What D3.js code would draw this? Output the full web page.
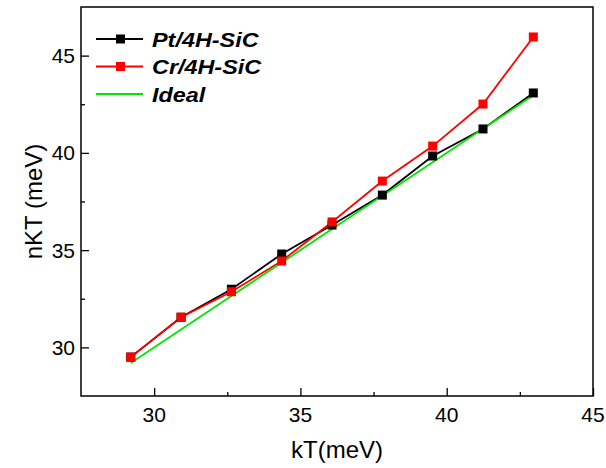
<html>
<head>
<script src="https://cdn.jsdelivr.net/npm/d3@7"></script>
<style>
  body { margin: 0; background: #fff; }
  text { font-family: Arial, "Liberation Sans", sans-serif; }
</style>
</head>
<body>
<svg id="chart" width="606" height="468"></svg>
<script>
// kT values (meV)
var kT = [29.2, 30.92, 32.64, 34.36, 36.08, 37.8, 39.52, 41.24, 42.96];
// nkT values (meV)
var ptValues = [29.5, 31.55, 32.99, 34.8, 36.29, 37.83, 39.84, 41.23, 43.08];
var crValues = [29.5, 31.55, 32.86, 34.44, 36.45, 38.55, 40.35, 42.51, 45.96];
var idealValues = [29.2, 30.92, 32.64, 34.36, 36.08, 37.8, 39.52, 41.24, 42.96];

var xTicks = [30, 35, 40, 45];
var xMinor = [32.5, 37.5, 42.5];
var yTicks = [30, 35, 40, 45];
var yMinor = [32.5, 37.5, 42.5];

var series = [
  {name: "Pt/4H-SiC", color: "#000000", values: ptValues, marker: true},
  {name: "Cr/4H-SiC", color: "#ff0000", values: crValues, marker: true},
  {name: "Ideal", color: "#00e600", values: idealValues, marker: false}
];

var plotLeft = 81, plotRight = 593, plotTop = 7, plotBottom = 396;

var svg = d3.select("#chart");

var x = d3.scaleLinear().domain([27.5, 45]).range([plotLeft, plotRight]);
var y = d3.scaleLinear().domain([27.5, 47.5]).range([plotBottom, plotTop]);

// major + minor ticks, drawn inward
var xAxis = d3.axisTop(x).tickValues(xTicks).tickSize(8).tickFormat("");
svg.append("g").attr("transform", "translate(0," + plotBottom + ")").call(xAxis);
var xAxisMinor = d3.axisTop(x).tickValues(xMinor).tickSize(4).tickFormat("");
svg.append("g").attr("transform", "translate(0," + plotBottom + ")").call(xAxisMinor);

var yAxis = d3.axisRight(y).tickValues(yTicks).tickSize(8).tickFormat("");
svg.append("g").attr("transform", "translate(" + plotLeft + ",0)").call(yAxis);
var yAxisMinor = d3.axisRight(y).tickValues(yMinor).tickSize(4).tickFormat("");
svg.append("g").attr("transform", "translate(" + plotLeft + ",0)").call(yAxisMinor);

svg.selectAll(".domain").remove();
svg.selectAll(".tick line").attr("stroke", "#000").attr("stroke-width", 1.3);

// tick labels
svg.selectAll(".xlab")
  .data(xTicks)
  .enter()
  .append("text")
  .attr("x", d => x(d))
  .attr("y", plotBottom + 26)
  .attr("text-anchor", "middle")
  .attr("font-size", 21)
  .text(d => d);

svg.selectAll(".ylab")
  .data(yTicks)
  .enter()
  .append("text")
  .attr("x", plotLeft - 6)
  .attr("y", d => y(d) + 7.5)
  .attr("text-anchor", "end")
  .attr("font-size", 21)
  .text(d => d);

// frame
svg.append("rect")
  .attr("x", plotLeft).attr("y", plotTop)
  .attr("width", plotRight - plotLeft).attr("height", plotBottom - plotTop)
  .attr("fill", "none").attr("stroke", "#000").attr("stroke-width", 1.5);

// lines
var line = d3.line().x((d, i) => x(kT[i])).y(d => y(d));

series.forEach(function(s) {
  svg.append("path")
    .attr("d", line(s.values))
    .attr("fill", "none")
    .attr("stroke", s.color)
    .attr("stroke-width", 1.8);
});

// markers
series.filter(s => s.marker).forEach(function(s) {
  svg.selectAll(null)
    .data(s.values)
    .enter()
    .append("rect")
    .attr("x", (d, i) => x(kT[i]) - 4.5)
    .attr("y", d => y(d) - 4.5)
    .attr("width", 9)
    .attr("height", 9)
    .attr("fill", s.color);
});

// legend
var legend = svg.append("g").attr("transform", "translate(96,39)");
series.forEach(function(s, i) {
  var g = legend.append("g").attr("transform", "translate(0," + (i * 27.5) + ")");
  g.append("line")
    .attr("x1", 0).attr("x2", 47).attr("y1", 0).attr("y2", 0)
    .attr("stroke", s.color).attr("stroke-width", 1.8);
  if (s.marker) {
    g.append("rect").attr("x", 20).attr("y", -4.5).attr("width", 9).attr("height", 9).attr("fill", s.color);
  }
  g.append("text")
    .attr("transform", "translate(56,7.5) scale(1.17,1)")
    .attr("font-size", 20)
    .attr("font-weight", "bold")
    .attr("font-style", "italic")
    .text(s.name);
});

// axis titles
svg.append("text")
  .attr("x", (plotLeft + plotRight) / 2)
  .attr("y", 458)
  .attr("text-anchor", "middle")
  .attr("font-size", 24)
  .text("kT(meV)");

svg.append("text")
  .attr("transform", "translate(42," + ((plotTop + plotBottom) / 2) + ") rotate(-90)")
  .attr("text-anchor", "middle")
  .attr("font-size", 24)
  .text("nKT (meV)");
</script>
</body>
</html>
